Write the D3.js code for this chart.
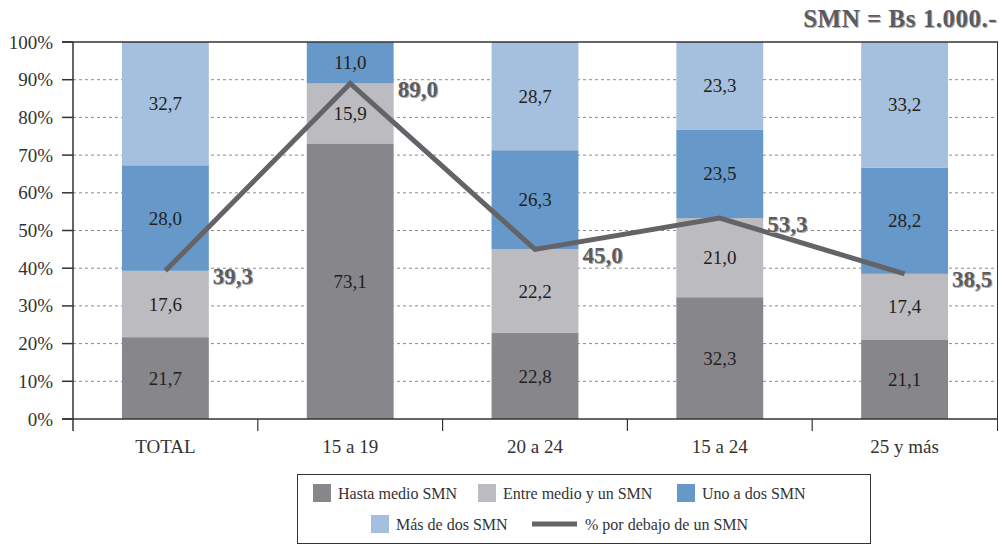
<!DOCTYPE html>
<html>
<head>
<meta charset="utf-8">
<script src="https://cdn.jsdelivr.net/npm/d3@7"></script>
<style>
  html, body { margin: 0; padding: 0; background: #fff; }
  svg text { font-family: 'Liberation Serif', 'DejaVu Serif', 'Times New Roman', serif; }
</style>
</head>
<body>
<svg id="chart" width="999" height="544"></svg>
<script>
const categories = ["TOTAL", "15 a 19", "20 a 24", "15 a 24", "25 y más"];
const seriesNames = ["Hasta medio SMN", "Entre medio y un SMN", "Uno a dos SMN", "Más de dos SMN"];
const hastaMedio = [21.7, 73.1, 22.8, 32.3, 21.1];
const entreMedioUn = [17.6, 15.9, 22.2, 21.0, 17.4];
const unoADos = [28.0, 11.0, 26.3, 23.5, 28.2];
const masDeDos = [32.7, 0, 28.7, 23.3, 33.2];
const porDebajo = [39.3, 89.0, 45.0, 53.3, 38.5];
const lineName = "% por debajo de un SMN";
const yTicks = [0, 10, 20, 30, 40, 50, 60, 70, 80, 90, 100];
const titleText = "SMN = Bs 1.000.-";

const colors = ["#87878b", "#bcbcc0", "#6699c9", "#a5c0de"];
const lineColor = "#636368";
const FONT = "'Liberation Serif', 'DejaVu Serif', 'Times New Roman', serif";

const svg = d3.select("#chart").attr("font-family", FONT);
const m = { left: 73, right: 997, top: 42, bottom: 419 };

const x = d3.scaleBand().domain(categories).range([m.left, m.right]).paddingInner(0.53).paddingOuter(0.265);
const xEdge = d3.scaleBand().domain(categories).range([m.left, m.right]).padding(0);
const y = d3.scaleLinear().domain([0, 100]).range([m.bottom, m.top]);

const fmt = v => d3.format(".1f")(v).replace(".", ",");

// gridlines
svg.append("g").selectAll("line").data(yTicks.filter(t => t > 0 && t < 100)).join("line")
  .attr("x1", m.left).attr("x2", m.right)
  .attr("y1", d => y(d)).attr("y2", d => y(d))
  .attr("stroke", "#8a8a8a").attr("stroke-width", 1).attr("stroke-dasharray", "3,3");

// stacked bars
const seriesData = [hastaMedio, entreMedioUn, unoADos, masDeDos];
const rows = categories.map((c, i) => {
  const o = { cat: c };
  seriesNames.forEach((s, k) => o[s] = seriesData[k][i]);
  return o;
});
const stack = d3.stack().keys(seriesNames)(rows);

const gBars = svg.append("g");
stack.forEach((layer, k) => {
  gBars.append("g").selectAll("rect").data(layer).join("rect")
    .attr("x", d => x(d.data.cat))
    .attr("width", x.bandwidth())
    .attr("y", d => y(Math.min(100, d[1])))
    .attr("height", d => Math.max(0, y(d[0]) - y(Math.min(100, d[1]))))
    .attr("fill", colors[k]);
});
stack.forEach((layer, k) => {
  gBars.append("g").selectAll("text").data(layer.filter(d => d[1] - d[0] > 0)).join("text")
    .attr("x", d => x(d.data.cat) + x.bandwidth() / 2)
    .attr("y", d => (y(d[0]) + y(Math.min(100, d[1]))) / 2)
    .attr("text-anchor", "middle").attr("dominant-baseline", "central")
    .attr("font-family", FONT)
    .attr("font-size", 19).attr("fill", "#231f20")
    .text(d => fmt(d[1] - d[0]));
});

// axes
const axis = svg.append("g").attr("stroke", "#333").attr("stroke-width", 1.5);
axis.append("line").attr("x1", m.left).attr("x2", m.left).attr("y1", m.top).attr("y2", m.bottom + 12);
axis.append("line").attr("x1", m.left - 11).attr("x2", m.right + 1).attr("y1", m.bottom).attr("y2", m.bottom);
axis.append("line").attr("x1", m.left - 11).attr("x2", m.right + 1).attr("y1", m.top).attr("y2", m.top);
axis.append("line").attr("x1", m.right + 0.5).attr("x2", m.right + 0.5).attr("y1", m.top).attr("y2", m.bottom + 12).attr("stroke-width", 1);
axis.selectAll("line.yt").data(yTicks).join("line").attr("class", "yt")
  .attr("x1", m.left - 11).attr("x2", m.left).attr("y1", d => y(d)).attr("y2", d => y(d));
axis.selectAll("line.xt").data(categories.slice(1)).join("line").attr("class", "xt")
  .attr("x1", d => xEdge(d)).attr("x2", d => xEdge(d)).attr("y1", m.bottom).attr("y2", m.bottom + 12).attr("stroke-width", 1.2);

svg.append("g").selectAll("text").data(yTicks).join("text")
  .attr("x", 53).attr("y", d => y(d)).attr("text-anchor", "end").attr("dominant-baseline", "central")
  .attr("font-family", FONT)
  .attr("font-size", 19).attr("fill", "#333").text(d => d + "%");

svg.append("g").selectAll("text").data(categories).join("text")
  .attr("x", d => x(d) + x.bandwidth() / 2).attr("y", 446).attr("text-anchor", "middle").attr("dominant-baseline", "central")
  .attr("font-family", FONT)
  .attr("font-size", 19).attr("fill", "#333").text(d => d);

// line
const line = d3.line().x((d, i) => x(categories[i]) + x.bandwidth() / 2).y(d => y(d));
svg.append("path").datum(porDebajo).attr("d", line)
  .attr("fill", "none").attr("stroke", lineColor).attr("stroke-width", 5);

svg.append("g").selectAll("text").data(porDebajo).join("text")
  .attr("x", (d, i) => x(categories[i]) + x.bandwidth() + 4)
  .attr("y", d => y(d) + 6)
  .attr("dominant-baseline", "central")
  .attr("font-family", FONT)
  .attr("font-size", 23).attr("font-weight", "bold").attr("fill", "#5c5c60")
  .style("text-shadow", "1px 1px 0 #b0b0b0")
  .text(d => fmt(d));

// title
svg.append("text").attr("x", 997).attr("y", 18).attr("text-anchor", "end").attr("dominant-baseline", "central")
  .attr("font-family", FONT)
  .attr("font-size", 25).attr("font-weight", "bold").attr("fill", "#5c5c60")
  .attr("letter-spacing", 0.5)
  .style("text-shadow", "1px 1px 0 #b0b0b0")
  .text(titleText);

// legend
const lg = svg.append("g");
lg.append("rect").attr("x", 297.5).attr("y", 474.5).attr("width", 573).attr("height", 69)
  .attr("fill", "#fff").attr("stroke", "#333").attr("stroke-width", 1);
const legendItems = [
  { name: seriesNames[0], type: "rect", color: colors[0], x: 313, y: 493 },
  { name: seriesNames[1], type: "rect", color: colors[1], x: 478, y: 493 },
  { name: seriesNames[2], type: "rect", color: colors[2], x: 677, y: 493 },
  { name: seriesNames[3], type: "rect", color: colors[3], x: 371, y: 524 },
  { name: lineName, type: "line", color: lineColor, x: 532, y: 524 }
];
legendItems.forEach(it => {
  if (it.type === "rect") {
    lg.append("rect").attr("x", it.x).attr("y", it.y - 9).attr("width", 18).attr("height", 18).attr("fill", it.color);
    lg.append("text").attr("x", it.x + 25).attr("y", it.y).attr("dominant-baseline", "central")
      .attr("font-family", FONT)
      .attr("font-size", 16).attr("fill", "#333").text(it.name);
  } else {
    lg.append("line").attr("x1", it.x).attr("x2", it.x + 45).attr("y1", it.y).attr("y2", it.y)
      .attr("stroke", it.color).attr("stroke-width", 5);
    lg.append("text").attr("x", it.x + 53).attr("y", it.y).attr("dominant-baseline", "central")
      .attr("font-family", FONT)
      .attr("font-size", 16).attr("fill", "#333").text(it.name);
  }
});
</script>
</body>
</html>
